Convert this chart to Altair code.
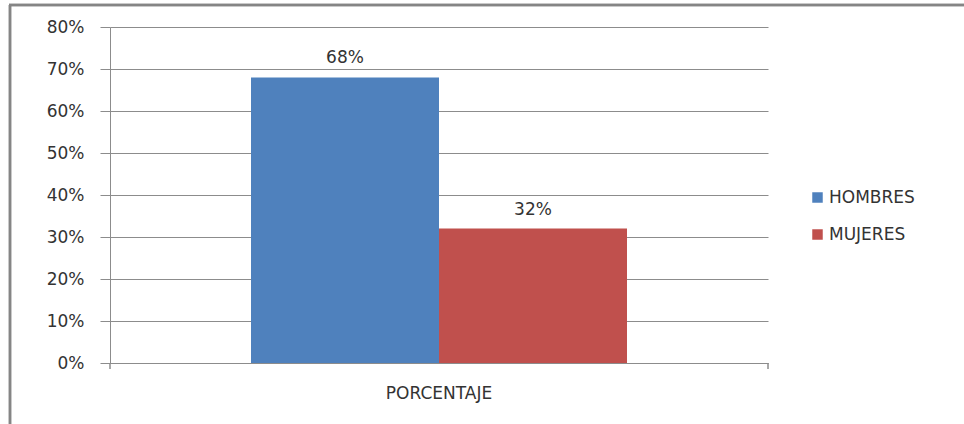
import altair as alt
import pandas as pd

categoria = ["PORCENTAJE"]
sexo = ["HOMBRES", "MUJERES"]
valores = [0.68, 0.32]
colores = ["#4F81BD", "#C0504D"]
ticks_y = [0, 0.1, 0.2, 0.3, 0.4, 0.5, 0.6, 0.7, 0.8]

df = pd.DataFrame({
    "categoria": categoria * len(sexo),
    "sexo": sexo,
    "valor": valores,
})

W, H = 658, 336
FONT = "DejaVu Sans"
GRID = "#8c8c8c"
TXT = "#333333"

x_enc = alt.X(
    "categoria:N",
    scale=alt.Scale(paddingOuter=0.375, paddingInner=0),
    axis=alt.Axis(title=None, labelAngle=0, ticks=False, domain=True,
                  domainColor=GRID, labelPadding=22, labelFontSize=17,
                  labelFont=FONT, labelColor=TXT),
)
xo_enc = alt.XOffset("sexo:N", sort=sexo,
                     scale=alt.Scale(paddingInner=0, paddingOuter=0))
y_enc = alt.Y(
    "valor:Q",
    scale=alt.Scale(domain=[0, 0.8], nice=False),
    axis=alt.Axis(title=None, format=".0%", values=ticks_y, grid=True,
                  gridColor=GRID, gridWidth=1, tickSize=10, tickColor=GRID,
                  domainColor=GRID, labelPadding=16, labelFontSize=17,
                  labelFont=FONT, labelColor=TXT),
)

base = alt.Chart(df)

bars = base.mark_bar().encode(
    x=x_enc, xOffset=xo_enc, y=y_enc,
    color=alt.Color(
        "sexo:N",
        scale=alt.Scale(domain=sexo, range=colores),
        legend=alt.Legend(title=None, orient="none", legendX=699, legendY=162,
                          symbolType="square", symbolSize=110,
                          symbolStrokeWidth=0, labelFontSize=17,
                          labelFont=FONT, labelColor=TXT, rowPadding=19,
                          labelOffset=3),
    ),
)

labels = base.mark_text(baseline="bottom", dy=-10, fontSize=17,
                        font=FONT, color=TXT).encode(
    x=x_enc, xOffset=xo_enc, y=y_enc,
    text=alt.Text("valor:Q", format=".0%"),
)

# small category-axis tick marks at the plot edges
edge_left = alt.Chart(df).mark_rule(color=GRID).encode(
    x=alt.value(0), y=alt.value(H), y2=alt.value(H + 6))
edge_right = alt.Chart(df).mark_rule(color=GRID).encode(
    x=alt.value(W), y=alt.value(H), y2=alt.value(H + 6))

# chart border (left and top)
border_left = alt.Chart(df).mark_rule(color="#858585", strokeWidth=2.5).encode(
    x=alt.value(-100), y=alt.value(-22), y2=alt.value(424 - 27))
border_top = alt.Chart(df).mark_rule(color="#858585", strokeWidth=2.5).encode(
    x=alt.value(-101), x2=alt.value(964 - 110), y=alt.value(-22))

chart = alt.layer(bars, labels, edge_left, edge_right, border_left, border_top).properties(
    width=W, height=H,
    autosize=alt.AutoSizeParams(type="none"),
    padding={"left": 110, "top": 27, "right": 964 - 110 - W, "bottom": 424 - 27 - H},
    background="white",
).configure_view(stroke=None)

chart.save("out.html", embed_options={"renderer": "svg", "actions": False})
